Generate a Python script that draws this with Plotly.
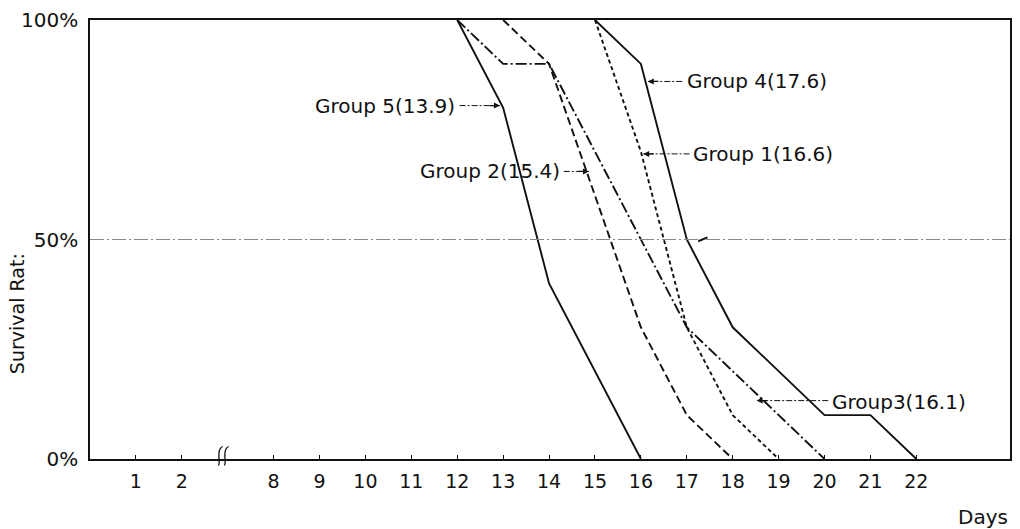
import plotly.graph_objects as go

# ---- data ----
tick_days = [1, 2, 8, 9, 10, 11, 12, 13, 14, 15, 16, 17, 18, 19, 20, 21, 22]
tick_labels = ["1", "2", "8", "9", "10", "11", "12", "13", "14", "15",
               "16", "17", "18", "19", "20", "21", "22"]
y_tick_vals = [0, 50, 100]
y_tick_labels = ["0%", "50%", "100%"]

g5_days = [12, 13, 14, 15, 16]
g5_surv = [100, 80, 40, 20, 0]
g2_days = [13, 14, 15, 16, 17, 18]
g2_surv = [100, 90, 60, 30, 10, 0]
g3_days = [12, 13, 14, 17, 20]
g3_surv = [100, 90, 90, 30, 0]
g1_days = [15, 16, 17, 18, 19]
g1_surv = [100, 70, 30, 10, 0]
g4_days = [15, 16, 17, 18, 20, 21, 22]
g4_surv = [100, 90, 50, 30, 10, 10, 0]

group_labels = ["Group 5(13.9)", "Group 2(15.4)", "Group3(16.1)",
                "Group 1(16.6)", "Group 4(17.6)"]

BREAK_FROM, BREAK_SHIFT = 2, 4  # days after the axis break are shifted left by 4


def pos(d):
    return d if d <= BREAK_FROM else d - BREAK_SHIFT


FONT = "DejaVu Sans"
INK = "#111111"

fig = go.Figure()
styles = [
    (g5_days, g5_surv, "solid"),
    (g2_days, g2_surv, "8px,4px"),
    (g3_days, g3_surv, "11px,3px,2px,3px"),
    (g1_days, g1_surv, "4px,3px"),
    (g4_days, g4_surv, "solid"),
]
for (d, s, dash), name in zip(styles, group_labels):
    fig.add_trace(go.Scatter(x=[pos(v) for v in d], y=s, mode="lines",
                             line=dict(color=INK, width=1.9, dash=dash),
                             name=name, showlegend=False, hoverinfo="skip"))

shapes = []
# 50% reference line
shapes.append(dict(type="line", xref="paper", yref="y", x0=0, x1=1, y0=50, y1=50,
                   line=dict(color="#888888", width=1, dash="14px,3px,2px,3px")))
# small mark on the 50% line
shapes.append(dict(type="line", xref="x", yref="y", x0=pos(17.25), y0=49.6,
                   x1=pos(17.45), y1=50.5, line=dict(color=INK, width=2)))

# axis break symbol
for cx in (2.83, 2.96):
    shapes.append(dict(
        type="path", xref="x", yref="paper",
        path=(f"M {cx-0.04},-0.014 C {cx+0.02},-0.014 {cx-0.06},0.012 "
              f"{cx+0.0},0.022 C {cx+0.04},0.03 {cx+0.06},0.028 {cx+0.05},0.028"),
        line=dict(color=INK, width=1.3)))

annotations = []
# label text + leader lines (position in days / percent)
labels = [
    # text, anchor, text_x(day), text_y, leader_start_day, tip_day, tip_y
    ("Group 5(13.9)", "right", 12.0, 80.5, 12.05, 12.93, 80.5),
    ("Group 2(15.4)", "right", 14.28, 65.5, 14.32, 14.87, 65.5),
    ("Group3(16.1)", "left", 20.12, 13.0, 20.08, 18.52, 13.3),
    ("Group 1(16.6)", "left", 17.1, 69.5, 17.06, 16.05, 69.5),
    ("Group 4(17.6)", "left", 16.95, 86.0, 16.9, 16.15, 86.0),
]
for text, anchor, tx, ty, ls, tip, tipy in labels:
    annotations.append(dict(x=pos(tx), y=ty, xref="x", yref="y", text=text,
                            showarrow=False, xanchor=anchor, yanchor="middle",
                            font=dict(family=FONT, size=20, color=INK)))
    shapes.append(dict(type="line", xref="x", yref="y", x0=pos(ls), x1=pos(tip),
                       y0=tipy, y1=tipy,
                       line=dict(color=INK, width=1, dash="6px,2px,2px,2px")))
    direction = 1 if ls > tip else -1
    annotations.append(dict(x=pos(tip), y=tipy, xref="x", yref="y", text="",
                            showarrow=True, ax=direction * 12, ay=0,
                            arrowhead=2, arrowsize=1, arrowwidth=1.2,
                            arrowcolor=INK, standoff=0))

annotations.append(dict(x=0.0, y=0.33, xref="paper", yref="paper",
                        xshift=-73, text="Survival Rat:", textangle=-90,
                        showarrow=False, xanchor="center", yanchor="middle",
                        font=dict(family=FONT, size=19, color=INK)))
annotations.append(dict(x=1.0, y=0, xref="paper", yref="paper", yshift=-58,
                        text="Days", showarrow=False, xanchor="right",
                        yanchor="middle",
                        font=dict(family=FONT, size=20, color=INK)))

fig.update_layout(
    width=1020, height=529,
    margin=dict(l=90, r=8, t=18, b=70),
    paper_bgcolor="white", plot_bgcolor="white",
    font=dict(family=FONT, size=17, color=INK),
    shapes=shapes, annotations=annotations,
    xaxis=dict(range=[0, 20.04], tickmode="array",
               tickvals=[pos(d) for d in tick_days], ticktext=tick_labels,
               ticks="inside", ticklen=4, tickcolor=INK, tickwidth=1,
               showline=True, linecolor=INK, linewidth=1.5, mirror=True,
               showgrid=False, zeroline=False, ticklabelstandoff=4,
               tickfont=dict(family=FONT, size=19, color=INK)),
    yaxis=dict(range=[0, 100], tickmode="array", tickvals=y_tick_vals,
               ticktext=y_tick_labels, ticks="",
               showline=True, linecolor=INK, linewidth=1.5, mirror=True,
               showgrid=False, zeroline=False, ticklabelstandoff=6,
               tickfont=dict(family=FONT, size=20, color=INK)),
)

fig.write_html("out.html",
               config={"displayModeBar": False},
               post_script="document.body.style.margin='0';"
                           "document.body.style.overflow='hidden';")
